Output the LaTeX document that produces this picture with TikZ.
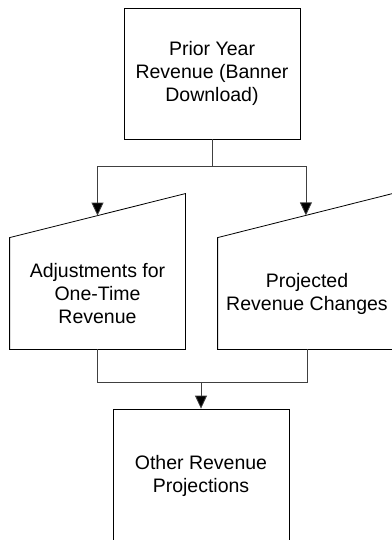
\documentclass[tikz,border=0pt]{standalone}
\usepackage{fontspec}
\setmainfont{Liberation Sans}
\usetikzlibrary{arrows.meta,calc}

\begin{document}
\begin{tikzpicture}[x=1pt,y=-1pt,>={Triangle[length=13pt,width=12pt,fill=black]},line width=0.8pt,
                    box/.style={rectangle,draw,align=center,inner sep=0pt,minimum width=176pt,
                                font={\fontsize{19.5pt}{23pt}\selectfont}},
                    manual/.style={rectangle,align=center,inner sep=0pt,minimum width=175pt,
                                minimum height=111pt,font={\fontsize{19.5pt}{23pt}\selectfont}},
                    link/.style={draw=black!75}]
  \useasboundingbox (0,0) rectangle (391,540);

  \node[box,minimum height=131pt] (prior) at (212,73.5) {Prior Year\\Revenue (Banner\\Download)};
  \node[manual] (adj) at (97.5,293.5) {Adjustments for\\One-Time\\Revenue};
  \node[manual,minimum width=178pt] (proj) at (307,293.5) {Projected\\Revenue Changes};
  \node[box,minimum height=133pt] (other) at (201,475.5) {Other Revenue\\Projections};

  % manual input outlines
  \draw (adj.south west) -- (adj.north west) -- ([yshift=44pt]adj.north east) -- (adj.south east) -- cycle;
  \draw (proj.south west) -- (proj.north west) -- ([yshift=45pt]proj.north east) -- (proj.south east) -- cycle;
  \coordinate (adjtop) at ($(adj.north west)!0.5!([yshift=44pt]adj.north east)$);
  \coordinate (projtop) at ($(proj.north west)!0.494!([yshift=45pt]proj.north east)$);

  % connectors
  \draw[link] (prior.south) -- ++(0,27) coordinate (split);
  \draw[link,->] (split) -| (adjtop);
  \draw[link,->] (split) -| (projtop);
  \draw[link] (adj.south) -- ++(0,33) coordinate (join) -| (proj.south);
  \draw[link,->] (join -| other.north) -- (other.north);
\end{tikzpicture}
\end{document}
